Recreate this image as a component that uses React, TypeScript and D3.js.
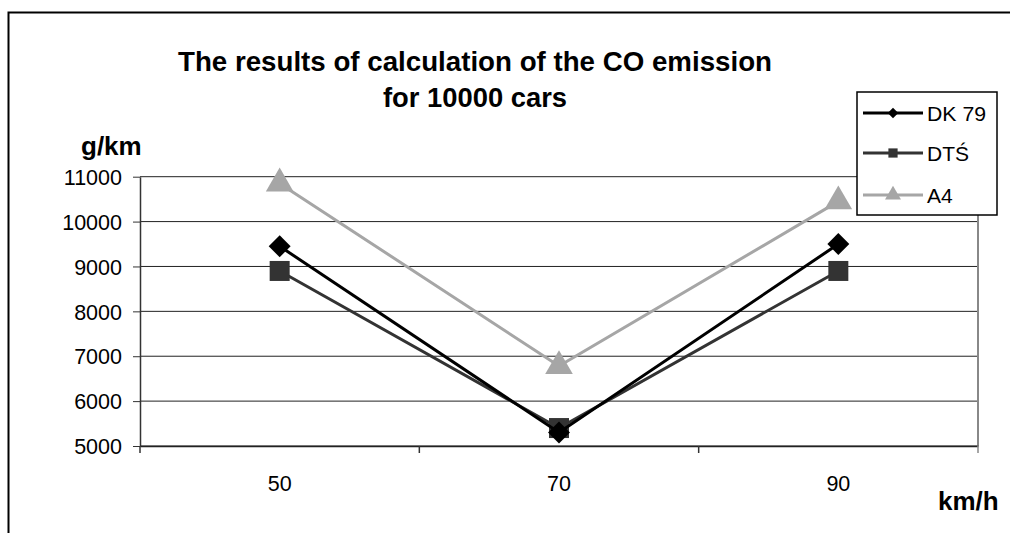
import React, { useEffect, useRef } from 'react';
import * as d3 from 'd3';

const categories = ['50', '70', '90'];
const yTicks = [5000, 6000, 7000, 8000, 9000, 10000, 11000];

const dk79 = [9450, 5300, 9500];
const dts = [8900, 5400, 8900];
const a4 = [10850, 6780, 10450];

const seriesNames = ['DK 79', 'DTŚ', 'A4'];
const seriesColors = ['#000000', '#333333', '#a6a6a6'];
const seriesSymbols = [d3.symbolSquare, d3.symbolSquare, d3.symbolTriangle];
const seriesRotate = [45, 0, 0];

const App: React.FC = () => {
  const svgRef = useRef<SVGSVGElement>(null);

  useEffect(() => {
    if (!svgRef.current) return;
    d3.select(svgRef.current).selectAll('*').remove();

    const width = 1010;
    const height = 533;
    const font = '"Liberation Sans", Arial, sans-serif';

    const svg = d3.select(svgRef.current)
      .attr('width', width)
      .attr('height', height);

    svg.append('rect').attr('width', width).attr('height', height).attr('fill', '#fff');

    // outer chart border (left and top visible)
    svg.append('path')
      .attr('d', `M8.5,${height} L8.5,12.5 L${width + 2},12.5`)
      .attr('fill', 'none')
      .attr('stroke', '#000')
      .attr('stroke-width', 2);

    const x = d3.scaleBand<string>().domain(categories).range([140, 978]);
    const y = d3.scaleLinear().domain([5000, 11000]).range([446, 176.7]);

    // gridlines
    svg.append('g')
      .selectAll('line')
      .data(yTicks)
      .enter()
      .append('line')
      .attr('x1', 140)
      .attr('x2', 978)
      .attr('y1', d => y(d))
      .attr('y2', d => y(d))
      .attr('stroke', '#222')
      .attr('stroke-width', 1);

    // right border of plot area
    svg.append('line')
      .attr('x1', 978).attr('x2', 978)
      .attr('y1', y(11000)).attr('y2', y(5000))
      .attr('stroke', '#888').attr('stroke-width', 2);

    // y axis
    const yAxis = svg.append('g').attr('transform', 'translate(140,0)')
      .call(d3.axisLeft(y).tickValues(yTicks).tickSize(7).tickSizeOuter(0).tickFormat(d3.format('d')));
    yAxis.select('.domain').attr('stroke', '#333').attr('stroke-width', 1.5);
    yAxis.selectAll('.tick line').attr('stroke', '#333');
    yAxis.selectAll('.tick text')
      .attr('font-family', font)
      .attr('font-size', 21.5)
      .attr('fill', '#000')
      .attr('x', -18)
      .attr('dy', '0.36em');

    // x axis
    const xAxis = svg.append('g').attr('transform', `translate(0,${y(5000)})`)
      .call(d3.axisBottom(x).tickSize(0).tickSizeOuter(0));
    xAxis.select('.domain').attr('stroke', '#222').attr('stroke-width', 1.5);
    xAxis.selectAll('.tick text')
      .attr('font-family', font)
      .attr('font-size', 21.5)
      .attr('fill', '#000')
      .attr('y', 30);

    // x ticks at band edges
    const edges = [...categories.map(c => x(c) as number), 978];
    svg.append('g')
      .selectAll('line')
      .data(edges)
      .enter()
      .append('line')
      .attr('x1', d => d).attr('x2', d => d)
      .attr('y1', y(5000)).attr('y2', y(5000) + 7)
      .attr('stroke', (d, i) => (i === edges.length - 1 ? '#888' : '#333'))
      .attr('stroke-width', 1.5);

    // series
    const allSeries = [dk79, dts, a4];
    const line = d3.line<number>()
      .x((d, i) => (x(categories[i]) as number) + x.bandwidth() / 2)
      .y(d => y(d));

    [2, 1, 0].forEach(si => {
      const vals = allSeries[si];
      svg.append('path')
        .datum(vals)
        .attr('d', line)
        .attr('fill', 'none')
        .attr('stroke', seriesColors[si])
        .attr('stroke-width', 3);
      const symSize = si === 0 ? 240 : si === 1 ? 400 : 330;
      svg.append('g')
        .selectAll('path')
        .data(vals)
        .enter()
        .append('path')
        .attr('transform', (d, i) =>
          `translate(${(x(categories[i]) as number) + x.bandwidth() / 2},${y(d)}) rotate(${seriesRotate[si]})`)
        .attr('d', d3.symbol().type(seriesSymbols[si]).size(symSize)())
        .attr('fill', seriesColors[si]);
    });

    // title
    svg.append('text')
      .attr('x', 475).attr('y', 70.5)
      .attr('text-anchor', 'middle')
      .attr('font-family', font).attr('font-weight', 'bold').attr('font-size', 27)
      .attr('textLength', 594).attr('lengthAdjust', 'spacingAndGlyphs')
      .text('The results of calculation of the CO emission');
    svg.append('text')
      .attr('x', 475).attr('y', 106.5)
      .attr('text-anchor', 'middle')
      .attr('font-family', font).attr('font-weight', 'bold').attr('font-size', 27)
      .attr('textLength', 184).attr('lengthAdjust', 'spacingAndGlyphs')
      .text('for 10000 cars');

    // axis titles
    svg.append('text')
      .attr('x', 81).attr('y', 155)
      .attr('font-family', font).attr('font-weight', 'bold').attr('font-size', 26)
      .text('g/km');
    svg.append('text')
      .attr('x', 938).attr('y', 510)
      .attr('font-family', font).attr('font-weight', 'bold').attr('font-size', 26)
      .text('km/h');

    // legend
    const legend = svg.append('g');
    legend.append('rect')
      .attr('x', 857).attr('y', 92)
      .attr('width', 140).attr('height', 123)
      .attr('fill', '#fff').attr('stroke', '#000').attr('stroke-width', 1.5);
    const rowY = [113, 153, 195];
    seriesNames.forEach((name, i) => {
      legend.append('line')
        .attr('x1', 863).attr('x2', 923)
        .attr('y1', rowY[i]).attr('y2', rowY[i])
        .attr('stroke', seriesColors[i]).attr('stroke-width', 3);
      legend.append('path')
        .attr('transform', `translate(893,${rowY[i]}) rotate(${seriesRotate[i]})`)
        .attr('d', d3.symbol().type(seriesSymbols[i]).size(i === 0 ? 55 : i === 1 ? 85 : 110)())
        .attr('fill', seriesColors[i]);
      legend.append('text')
        .attr('x', 927).attr('y', rowY[i])
        .attr('dy', '0.36em')
        .attr('font-family', font).attr('font-size', 21)
        .attr('textLength', name === 'DK 79' ? 59 : null)
        .attr('lengthAdjust', 'spacingAndGlyphs')
        .text(name);
    });
  }, []);

  return (
    <div style={{ position: 'absolute', left: 0, top: 0 }}>
      <svg ref={svgRef} style={{ display: 'block' }}></svg>
    </div>
  );
};

export default App;
